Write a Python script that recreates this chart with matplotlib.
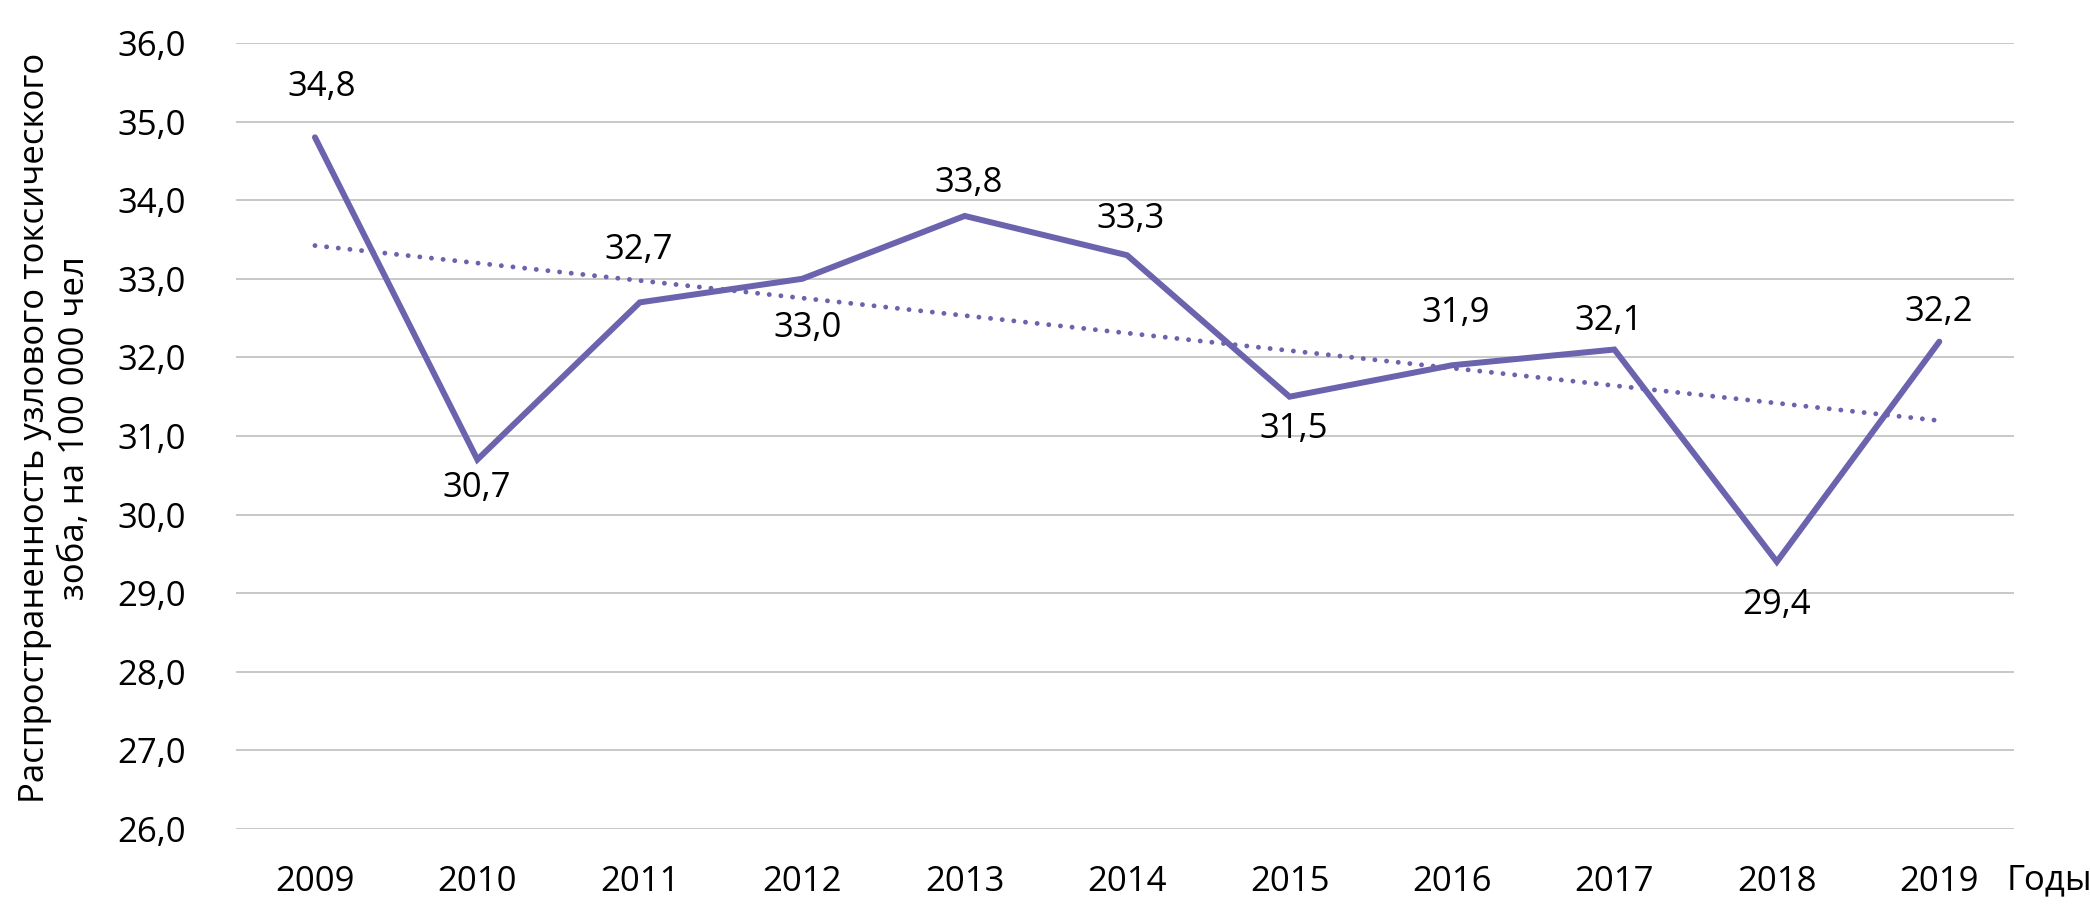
import numpy as np
import matplotlib
matplotlib.use("Agg")
import matplotlib.pyplot as plt

# ---------------- DATA ----------------
years = ["2009", "2010", "2011", "2012", "2013", "2014",
         "2015", "2016", "2017", "2018", "2019"]
values = [34.8, 30.7, 32.7, 33.0, 33.8, 33.3, 31.5, 31.9, 32.1, 29.4, 32.2]
y_ticks = [26, 27, 28, 29, 30, 31, 32, 33, 34, 35, 36]

# label offsets in pixels (dx, dy) relative to each point
label_offsets = [(7, 50), (-1, -28), (-1, 52), (5, -49), (4, 33), (3, 36),
                 (4, -32), (4, 52), (-6, 29), (0, -43), (-1, 30)]

COLOR = "#6B63AD"
plt.rcParams["font.family"] = ["Open Sans", "DejaVu Sans"]

fig = plt.figure(figsize=(20.9, 9.13), dpi=100)
ax = fig.add_axes([236 / 2090, 84 / 913, 1778 / 2090, 786 / 913])

x = np.arange(len(years))
ax.plot(x, values, color=COLOR, linewidth=4.3, solid_joinstyle="miter",
        solid_capstyle="round", zorder=3)

# linear trend
k, b = np.polyfit(x, values, 1)
ax.plot(x, k * x + b, color=COLOR, linewidth=3.5,
        linestyle=(0, (0.01, 2.4)), dash_capstyle="round", zorder=2)

for xi, v, (dx, dy) in zip(x, values, label_offsets):
    ax.annotate(f"{v:.1f}".replace(".", ","), (xi, v),
                xytext=(dx * 0.72, dy * 0.72), textcoords="offset points",
                ha="center", va="center", fontsize=25, color="black", zorder=4)

ax.set_ylim(26, 36)
ax.set_xlim(-0.486, 10.46)
ax.set_yticks(y_ticks)
ax.set_yticklabels([f"{t:.1f}".replace(".", ",") for t in y_ticks])
ax.set_xticks(x)
ax.set_xticklabels(years)
ax.tick_params(axis="both", length=0, labelsize=25)
ax.tick_params(axis="y", pad=36)
ax.tick_params(axis="x", pad=26)

ax.grid(axis="y", color="#BFBFBF", linewidth=1.2)
ax.set_axisbelow(True)
for s in ax.spines.values():
    s.set_visible(False)

fig.text(2007 / 2090, 1 - 880 / 913, "Годы", fontsize=25, ha="left", va="center")
fig.text(55 / 2090, 1 - 428 / 913,
         "Распространенность узлового токсического\nзоба, на 100 000 чел",
         fontsize=25, rotation=90, ha="center", va="center",
         multialignment="center", linespacing=1.25)

fig.savefig("out.png", dpi=100)
